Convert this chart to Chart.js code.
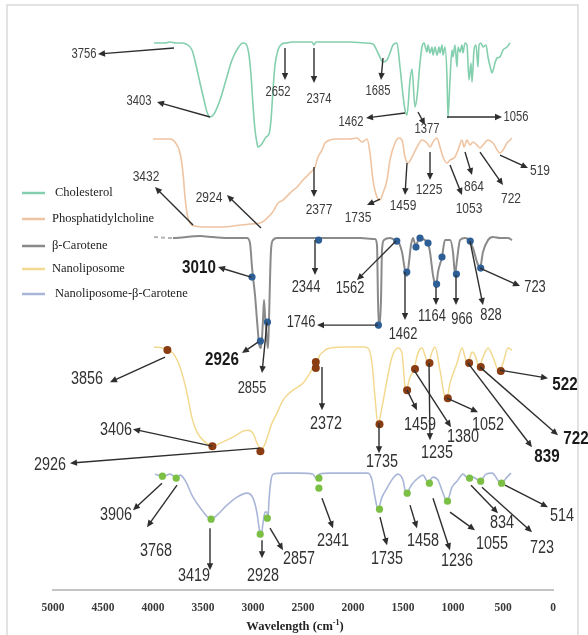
<!DOCTYPE html>
<html>
<head>
<meta charset="utf-8">
<script src="https://cdn.jsdelivr.net/npm/chart.js@4/dist/chart.umd.min.js"></script>
<style>
  html, body { margin: 0; padding: 0; background: #fff; }
  #wrap { width: 588px; height: 635px; position: relative; }
</style>
</head>
<body>
<div id="wrap"><canvas id="ftir" width="588" height="635"></canvas></div>
<script>
// ---- FTIR spectra (wavenumber in cm-1, stacked transmittance in arbitrary units) ----
const seriesNames = ['Cholesterol', 'Phosphatidylcholine', 'β-Carotene', 'Nanoliposome', 'Nanoliposome-β-Carotene'];
const xTicks = [5000, 4500, 4000, 3500, 3000, 2500, 2000, 1500, 1000, 500, 0];

const wnCholesterol = [3990,3880,3830,3770,3720,3670,3610,3570,3530,3490,3460,3430,3390,3330,3270,3210,3150,3100,3070,3040,
  3020,3000,2980,2960,2950,2920,2900,2870,2840,2820,2800,2780,2750,2710,2670,2610,2530,2430,2410,2390,
  2370,2230,2030,1880,1800,1750,1700,1660,1630,1600,1560,1530,1500,1480,1460,1430,1410,1380,1360,1330,
  1310,1290,1260,1250,1230,1210,1200,1180,1160,1140,1130,1110,1100,1080,1060,1050,1030,1010,1000,980,
  960,950,930,910,900,880,860,840,820,810,790,770,750,740,720,700,670,650,620,610,
  580,560,530,500,460,430];
const tCholesterol = [109.4,109.4,109.6,109.4,109.4,109.2,108.0,105.0,101.4,98.0,95.6,94.6,95.2,98.0,102.0,106.0,108.4,109.4,109.2,107.0,
  103.0,97.0,92.0,89.4,88.6,89.0,89.6,90.6,91.2,94.0,100.0,105.0,108.0,109.2,109.4,109.6,109.6,109.6,109.6,109.0,
  109.6,109.6,109.6,109.4,109.2,107.4,105.6,106.0,107.4,109.0,109.4,104.6,99.0,96.0,95.0,102.0,104.2,96.6,98.6,105.4,
  108.6,109.4,107.6,109.0,107.4,108.6,107.0,108.6,107.0,108.6,107.4,109.0,107.0,108.6,102.6,94.4,102.0,108.0,106.6,109.0,
  104.6,108.6,107.6,109.0,107.4,109.4,109.0,102.0,105.4,101.6,108.0,109.0,104.6,109.0,109.4,108.6,109.0,106.6,104.0,103.4,
  105.4,106.4,106.6,108.0,108.6,109.4];

const wnPC = [4000,3830,3780,3730,3700,3680,3660,3630,3580,3500,3360,3200,3030,2930,2880,2850,2810,2780,2750,2700,
  2630,2560,2500,2430,2380,2360,2350,2310,2280,2230,2160,2030,1960,1910,1860,1830,1800,1760,1730,1700,
  1660,1630,1580,1540,1510,1480,1450,1410,1360,1310,1260,1230,1200,1160,1130,1100,1060,1030,980,950,
  910,890,860,830,800,760,730,700,650,600,530,500,460,430,410];
const tPC = [90.2,90.2,89.6,87.4,83.4,78.6,75.4,73.4,72.8,72.6,72.6,72.8,73.2,73.4,74.0,74.6,75.4,76.4,77.4,78.0,
  79.4,80.6,82.0,83.4,84.6,86.0,86.6,88.0,89.4,90.0,90.2,90.2,90.4,89.6,90.2,87.4,82.0,78.6,78.0,79.4,
  82.0,86.0,89.4,90.4,90.0,86.6,85.4,86.6,88.6,90.0,89.4,88.6,89.6,90.4,88.6,86.6,85.4,86.0,86.6,88.0,
  90.0,88.6,90.0,89.0,89.6,89.0,88.4,89.0,90.0,89.4,87.4,88.0,89.4,90.0,90.4];

const wnBC = [3990,3800,3530,3400,3230,3060,3030,3010,3000,2980,2960,2940,2920,2900,2890,2880,2860,2850,2840,2830,
  2820,2800,2760,2530,2230,1930,1780,1760,1750,1740,1720,1710,1690,1630,1580,1540,1510,1480,1460,1440,
  1420,1400,1370,1350,1330,1280,1250,1230,1200,1170,1150,1110,1080,1030,1000,980,960,930,880,840,
  800,760,730,700,650,600,530,450,410];
const tBC = [70.6,70.4,70.8,70.6,70.4,70.4,69.4,64.6,62.6,59.0,54.0,49.4,48.4,54.0,58.0,55.0,50.0,48.4,54.0,62.0,
  68.0,70.0,70.4,70.4,70.4,70.4,70.2,69.0,58.0,52.4,58.0,68.0,70.0,70.4,70.0,69.4,67.6,64.0,62.8,65.6,
  69.0,70.4,68.6,70.0,70.4,70.0,69.4,67.6,63.0,60.6,63.6,66.6,70.0,70.0,67.6,63.2,66.0,70.0,70.4,70.0,
  68.4,65.6,64.4,67.6,70.0,70.6,70.4,70.4,70.0];

const wnNL = [3990,3900,3850,3800,3730,3660,3610,3560,3500,3400,3330,3200,3100,3050,3000,2960,2920,2880,2850,2810,
  2760,2700,2600,2500,2430,2390,2360,2350,2300,2230,2030,1900,1850,1810,1780,1750,1710,1660,1610,1550,
  1510,1480,1470,1430,1390,1350,1310,1280,1250,1210,1180,1130,1080,1060,1030,960,910,880,860,830,
  810,780,740,700,650,600,540,500,450,410];
const tNL = [48.6,48.4,48.0,47.4,44.6,39.4,34.4,31.6,30.0,28.8,29.4,30.6,31.8,32.0,31.4,29.4,28.2,29.2,31.0,33.4,
  35.4,38.0,40.0,41.4,43.4,44.6,44.6,46.0,47.6,48.4,48.6,48.6,48.4,45.4,38.6,33.2,36.6,42.0,46.6,48.4,
  47.4,40.6,40.0,42.6,44.2,47.4,48.4,47.0,45.4,47.6,48.6,44.0,38.6,38.4,41.4,45.4,48.4,46.6,45.4,46.6,
  47.6,47.0,44.6,46.6,48.4,46.6,43.8,45.4,48.4,48.0];

const wnNLB = [3980,3900,3830,3760,3730,3680,3600,3510,3420,3360,3260,3160,3060,3000,2960,2940,2920,2900,2880,2860,
  2850,2840,2820,2800,2700,2530,2400,2370,2340,2230,1850,1810,1780,1750,1710,1660,1600,1550,1500,1470,
  1410,1350,1300,1250,1200,1150,1100,1060,1010,960,900,850,800,730,670,610,520,460,420];
const tNLB = [23.2,22.8,23.2,22.4,23.0,22.0,18.6,16.0,14.2,15.0,17.0,18.6,19.4,18.4,15.4,12.6,10.6,13.4,15.6,15.6,
  14.4,18.0,22.0,23.2,23.4,23.4,23.2,22.4,23.2,23.4,23.4,22.0,18.6,16.2,18.6,20.4,22.4,23.2,22.0,19.4,
  21.2,22.4,23.0,21.6,22.6,22.0,19.4,17.8,20.6,21.8,23.2,22.4,22.6,21.8,23.2,23.4,21.4,22.6,23.4];

// ---- marked peaks (dots) ----
const bcDotWn = [3010,2926,2855,2344,1746,1562,1462,1370,1330,1250,1164,1110,966,828,723];
const bcDotT  = [62.6,49.8,53.6,70.0,53.0,69.8,63.6,68.6,70.4,69.4,61.2,66.6,63.2,69.8,64.4];
const nlDotWn = [3856,3406,2926,2372,2372,1735,1459,1380,1235,1052,839,722,522];
const nlDotT  = [48.0,28.8,27.8,44.4,45.6,33.2,40.0,44.2,45.4,38.4,45.4,44.6,43.8];
const nlbDotWn = [3906,3768,3419,2928,2857,2341,2341,1735,1458,1236,1055,834,723,514];
const nlbDotT  = [22.8,22.4,14.2,11.2,14.4,22.4,20.4,16.2,19.4,21.4,17.8,22.4,21.8,21.4];

// ---- peak labels ----
const cholPeaks = [3756,3403,2652,2374,1685,1462,1377,1056];
const pcPeaks   = [3432,2924,2377,1735,1459,1225,1053,864,722,519];
const bcPeaks   = [3010,2926,2855,2344,1562,1746,1462,1164,966,828,723];
const nlPeaks   = [3856,3406,2926,2372,1735,1459,1380,1235,1052,839,722,522];
const nlbPeaks  = [3906,3768,3419,2928,2857,2341,1735,1458,1236,1055,834,723,514];

// ---- callout layout: [arrow tail, arrow head, label centre] in axis units ----
const cholCallouts = [
  [[3790,108.4],[4550,107.2],[4690,107.2]],
  [[3430,94.6],[3960,97.6],[4140,97.8]],
  [[2680,108.4],[2680,102.0],[2750,99.6]],
  [[2390,108.4],[2390,101.4],[2340,98.2]],
  [[1700,106.4],[1720,102.0],[1750,99.8]],
  [[1480,95.4],[1870,94.4],[2020,93.6]],
  [[1350,95.6],[1280,93.0],[1260,92.2]],
  [[1060,94.6],[510,94.6],[370,94.6]]
];
const pcCallouts = [
  [[3600,73.0],[3980,80.6],[4070,82.6]],
  [[2920,72.4],[3260,79.0],[3440,78.4]],
  [[2390,84.6],[2390,78.6],[2340,76.0]],
  [[1730,78.2],[1860,77.0],[1950,74.4]],
  [[1460,85.4],[1480,79.0],[1500,76.8]],
  [[1230,87.6],[1230,82.0],[1240,80.0]],
  [[1030,85.0],[910,79.0],[840,76.2]],
  [[880,87.6],[810,83.0],[790,80.6]],
  [[730,87.6],[500,81.0],[420,78.2]],
  [[530,87.0],[250,84.4],[130,83.8]]
];
const bcCallouts = [
  [[3020,62.6],[3350,64.6],[3540,64.4]],
  [[2950,49.6],[3110,47.4],[3310,46.0]],
  [[2860,53.6],[2910,43.4],[3010,40.4]],
  [[2380,70.0],[2380,63.0],[2470,60.6]],
  [[1570,69.8],[1960,62.0],[2030,60.4]],
  [[1750,53.0],[2360,53.0],[2520,53.6]],
  [[1480,63.6],[1480,54.0],[1500,51.2]],
  [[1170,60.6],[1170,57.0],[1210,54.8]],
  [[970,63.0],[970,57.0],[910,54.2]],
  [[830,69.8],[700,57.0],[620,55.0]],
  [[730,64.4],[330,60.8],[180,60.6]]
];
const nlCallouts = [
  [[3880,46.6],[4430,41.6],[4660,42.2]],
  [[3410,28.8],[4200,32.2],[4370,32.0]],
  [[2930,28.4],[4830,25.4],[5030,25.0]],
  [[2310,44.6],[2310,36.0],[2270,33.2]],
  [[1740,33.4],[1740,27.4],[1710,25.6]],
  [[1460,40.0],[1360,36.0],[1330,33.0]],
  [[1390,44.0],[1020,32.6],[900,30.6]],
  [[1240,45.4],[1230,30.0],[1160,27.4]],
  [[1060,38.4],[750,35.6],[650,33.0]],
  [[850,45.4],[210,28.6],[60,26.6]],
  [[730,44.6],[-50,31.0],[-230,30.2]],
  [[530,44.0],[50,42.4],[-120,41.0]]
];
const nlbCallouts = [
  [[3910,21.4],[4200,16.0],[4370,15.0]],
  [[3760,21.0],[4060,12.6],[3970,7.8]],
  [[3430,12.4],[3430,4.0],[3590,2.8]],
  [[2910,10.0],[2910,6.4],[2900,2.8]],
  [[2830,12.4],[2700,8.0],[2540,6.2]],
  [[2310,18.4],[2200,12.4],[2200,9.8]],
  [[1730,14.6],[1660,9.0],[1660,6.2]],
  [[1430,17.0],[1360,12.4],[1300,9.8]],
  [[1200,18.4],[1030,8.0],[960,5.8]],
  [[1030,15.6],[780,12.0],[610,9.2]],
  [[820,21.0],[550,15.4],[510,13.4]],
  [[710,20.6],[210,11.6],[110,8.4]],
  [[480,21.0],[50,16.6],[-90,14.8]]
];

// ---- styling ----
const lineColors = ['#84cfae', '#efc4a2', '#8a8a8a', '#f3d98f', '#a9b6d8'];
const lineWidths = [1.6, 1.6, 2.0, 1.5, 1.6];
const labelStyles = {
  chol: { font: '14px "Liberation Sans", Arial, sans-serif', sx: 0.8, color: '#3c3c3c' },
  pc:   { font: '15px "Liberation Sans", Arial, sans-serif', sx: 0.8, color: '#3c3c3c' },
  bc:   { font: '17px "Liberation Sans", Arial, sans-serif', sx: 0.76, color: '#333', bold: [3010, 2926] },
  nl:   { font: '18px "Liberation Sans", Arial, sans-serif', sx: 0.8, color: '#333', bold: [839, 722, 522] },
  nlb:  { font: '18px "Liberation Sans", Arial, sans-serif', sx: 0.8, color: '#333' }
};
const boldLabelFont = '700 19px "Liberation Sans", Arial, sans-serif';
const legendRows = [193, 219, 246, 269, 294];
const legendTextX = [55, 52, 52, 52, 55];

const toPoints = (w, t) => w.map((x, i) => ({ x, y: t[i] }));

function spectrum(i, w, t, extra) {
  return Object.assign({
    label: seriesNames[i],
    data: toPoints(w, t),
    borderColor: lineColors[i],
    borderWidth: lineWidths[i],
    pointRadius: 0,
    fill: false,
    tension: 0.25,
    cubicInterpolationMode: 'monotone',
    order: 10
  }, extra || {});
}
function dots(w, t, color, r) {
  return {
    label: '',
    data: toPoints(w, t),
    showLine: false,
    pointRadius: r,
    pointBackgroundColor: color,
    pointBorderColor: color,
    pointBorderWidth: 0,
    order: 0
  };
}

function drawArrow(ctx, x0, y0, x1, y1) {
  const a = Math.atan2(y1 - y0, x1 - x0), L = 7, W = 3.2;
  const c = Math.cos(a), s = Math.sin(a);
  ctx.save();
  ctx.strokeStyle = '#2e2e2e';
  ctx.fillStyle = '#2e2e2e';
  ctx.lineWidth = 1.4;
  ctx.beginPath();
  ctx.moveTo(x0, y0);
  ctx.lineTo(x1 - c * L * 0.7, y1 - s * L * 0.7);
  ctx.stroke();
  ctx.beginPath();
  ctx.moveTo(x1, y1);
  ctx.lineTo(x1 - L * c + W * s, y1 - L * s - W * c);
  ctx.lineTo(x1 - L * c - W * s, y1 - L * s + W * c);
  ctx.closePath();
  ctx.fill();
  ctx.restore();
}
function drawLabel(ctx, text, x, y, font, sx, color) {
  ctx.save();
  ctx.translate(x, y);
  ctx.scale(sx, 1);
  ctx.font = font;
  ctx.fillStyle = color;
  ctx.textAlign = 'center';
  ctx.textBaseline = 'middle';
  ctx.fillText(text, 0, 0);
  ctx.restore();
}
function drawCallouts(chart, peaks, callouts, style) {
  const xs = chart.scales.x, ys = chart.scales.y, ctx = chart.ctx;
  peaks.forEach((p, i) => {
    const [tail, head] = callouts[i];
    drawArrow(ctx, xs.getPixelForValue(tail[0]), ys.getPixelForValue(tail[1]),
                   xs.getPixelForValue(head[0]), ys.getPixelForValue(head[1]));
  });
  peaks.forEach((p, i) => {
    const at = callouts[i][2];
    const bold = style.bold && style.bold.includes(p);
    drawLabel(ctx, String(p), xs.getPixelForValue(at[0]), ys.getPixelForValue(at[1]),
              bold ? boldLabelFont : style.font, bold ? 0.8 : style.sx, bold ? '#1a1a1a' : style.color);
  });
}

const decor = {
  id: 'decor',
  beforeDraw(chart) {
    const ctx = chart.ctx;
    ctx.save();
    ctx.fillStyle = '#ffffff';
    ctx.fillRect(0, 0, chart.width, chart.height);
    ctx.strokeStyle = '#dadada';
    ctx.lineWidth = 1.5;
    ctx.strokeRect(7, 5, 571, 660);
    ctx.restore();
  },
  afterDatasetsDraw(chart) {
    drawCallouts(chart, cholPeaks, cholCallouts, labelStyles.chol);
    drawCallouts(chart, pcPeaks, pcCallouts, labelStyles.pc);
    drawCallouts(chart, bcPeaks, bcCallouts, labelStyles.bc);
    drawCallouts(chart, nlPeaks, nlCallouts, labelStyles.nl);
    drawCallouts(chart, nlbPeaks, nlbCallouts, labelStyles.nlb);
  },
  afterDraw(chart) {
    const ctx = chart.ctx;
    // legend
    ctx.save();
    chart.data.datasets.slice(0, 5).forEach((ds, i) => {
      const y = legendRows[i];
      ctx.strokeStyle = ds.borderColor;
      ctx.lineWidth = 2.5;
      ctx.beginPath();
      ctx.moveTo(22, y);
      ctx.lineTo(45, y);
      ctx.stroke();
      ctx.fillStyle = '#222';
      ctx.font = '12.5px "Liberation Serif", "Times New Roman", serif';
      ctx.textAlign = 'left';
      ctx.textBaseline = 'middle';
      ctx.fillText(ds.label, legendTextX[i], y);
    });
    // axis title with superscript
    const main = 'Wavelength (cm', sup = '-1', tail = ')';
    const fMain = '700 12.5px "Liberation Serif", "Times New Roman", serif';
    const fSup = '700 8px "Liberation Serif", "Times New Roman", serif';
    ctx.font = fMain;
    const w1 = ctx.measureText(main).width, w3 = ctx.measureText(tail).width;
    ctx.font = fSup;
    const w2 = ctx.measureText(sup).width;
    let x = 295 - (w1 + w2 + w3) / 2;
    const y = 627;
    ctx.fillStyle = '#222';
    ctx.textAlign = 'left';
    ctx.textBaseline = 'middle';
    ctx.font = fMain; ctx.fillText(main, x, y); x += w1;
    ctx.font = fSup; ctx.fillText(sup, x, y - 4); x += w2;
    ctx.font = fMain; ctx.fillText(tail, x, y);
    ctx.restore();
  }
};

new Chart(document.getElementById('ftir'), {
  type: 'line',
  data: {
    datasets: [
      spectrum(0, wnCholesterol, tCholesterol),
      spectrum(1, wnPC, tPC),
      spectrum(2, wnBC, tBC, {
        segment: {
          borderDash: c => (c.p0.parsed.x > 3850 ? [4, 3] : undefined),
          borderColor: c => (c.p0.parsed.x > 3850 ? '#b4b4b4' : undefined)
        }
      }),
      spectrum(3, wnNL, tNL),
      spectrum(4, wnNLB, tNLB),
      dots(bcDotWn, bcDotT, '#2d5e96', 3.6),
      dots(nlDotWn, nlDotT, '#8a3c12', 4),
      dots(nlbDotWn, nlbDotT, '#7cbf45', 3.6)
    ]
  },
  options: {
    responsive: false,
    animation: false,
    devicePixelRatio: 1,
    layout: { padding: { left: 53, right: 35, top: 20, bottom: 9 } },
    plugins: { legend: { display: false }, tooltip: { enabled: false } },
    scales: {
      x: {
        type: 'linear',
        min: 0,
        max: 5000,
        reverse: true,
        afterBuildTicks: axis => { axis.ticks = xTicks.map(v => ({ value: v })); },
        grid: { display: false, drawTicks: false },
        border: { display: true, color: '#c4c4c4', width: 2 },
        ticks: {
          autoSkip: false,
          maxRotation: 0,
          padding: 11,
          color: '#3a3a3a',
          callback: v => String(v),
          font: { family: '"Liberation Serif", "Times New Roman", serif', size: 11.5, weight: 'bold' }
        }
      },
      y: { display: false, min: 0, max: 114 }
    }
  },
  plugins: [decor]
});
</script>
</body>
</html>
